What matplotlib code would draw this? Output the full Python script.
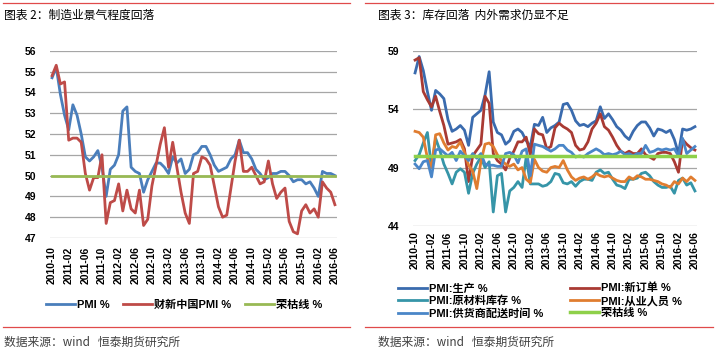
from matplotlib import pyplot as plt
from matplotlib.lines import Line2D
import numpy as np
import pandas as pd

# 月份 2010-10 ~ 2016-06
months = pd.date_range('2010-10-01', '2016-06-01', freq='MS').strftime('%Y-%m').tolist()

# 图表2 数据
pmi = [54.7, 55.2, 53.9,
       52.9, 52.2, 53.4, 52.9, 52.0, 50.9, 50.7, 50.9, 51.2, 50.4, 49.0, 50.3,
       50.5, 51.0, 53.1, 53.3, 50.4, 50.2, 50.1, 49.2, 49.8, 50.2, 50.6, 50.6,
       50.4, 50.1, 50.9, 50.6, 50.8, 50.1, 50.3, 51.0, 51.1, 51.4, 51.4, 51.0,
       50.5, 50.2, 50.3, 50.4, 50.8, 51.0, 51.7, 51.1, 51.1, 50.8, 50.3, 50.1,
       49.8, 49.9, 50.1, 50.1, 50.2, 50.2, 50.0, 49.7, 49.8, 49.8, 49.6, 49.7,
       49.4, 49.0, 50.2, 50.1, 50.1, 50.0]
caixin = [54.8, 55.3, 54.4,
          54.5, 51.7, 51.8, 51.8, 51.6, 50.1, 49.3, 49.9, 49.9, 51.0, 47.7, 48.7,
          48.8, 49.6, 48.3, 49.3, 48.4, 48.2, 49.3, 47.6, 47.9, 49.5, 50.5, 51.5,
          52.3, 50.4, 51.6, 50.4, 49.2, 48.2, 47.7, 50.1, 50.2, 50.9, 50.8, 50.5,
          49.5, 48.5, 48.0, 48.1, 49.4, 50.7, 51.7, 50.2, 50.2, 50.4, 50.0, 49.6,
          49.7, 50.7, 49.6, 48.9, 49.2, 49.4, 47.8, 47.3, 47.2, 48.3, 48.6, 48.2,
          48.4, 48.0, 49.7, 49.4, 49.2, 48.6]
boom_line = 50

# 图表3 数据
production = [57.1, 58.5, 57.3,
              55.5, 53.9, 55.6, 55.3, 54.9, 53.1, 52.1, 52.3, 52.6, 52.2, 50.9, 53.3,
              53.6, 53.9, 55.2, 57.2, 52.9, 52.0, 51.8, 51.0, 51.3, 52.1, 52.3, 52.0,
              51.3, 50.8, 52.7, 52.6, 53.3, 52.0, 52.4, 52.6, 52.9, 54.4, 54.5, 53.9,
              53.0, 52.6, 52.7, 52.5, 52.8, 53.0, 54.2, 53.2, 53.6, 53.1, 52.5, 52.2,
              51.7, 51.4, 52.1, 52.6, 52.9, 52.9, 52.4, 51.7, 52.3, 52.2, 52.0, 52.2,
              51.4, 50.2, 52.3, 52.2, 52.3, 52.5]
new_orders = [58.2, 58.4, 55.5,
              54.8, 54.2, 55.1, 53.8, 52.6, 51.0, 51.1, 51.2, 51.4, 50.6, 47.8, 50.0,
              50.5, 51.0, 55.1, 54.5, 50.2, 49.6, 49.3, 48.8, 49.8, 50.4, 51.2, 51.2,
              51.6, 50.1, 52.3, 51.9, 51.8, 50.6, 50.8, 52.4, 52.8, 52.5, 52.3, 52.0,
              50.9, 50.5, 50.6, 51.2, 52.3, 52.8, 53.6, 52.5, 52.2, 51.6, 50.9, 50.4,
              50.2, 50.4, 50.2, 50.2, 50.6, 50.1, 49.9, 49.7, 50.2, 50.3, 50.3, 50.2,
              49.5, 48.6, 51.4, 51.0, 50.7, 50.5]
inventory = [49.6, 50.1, 51.1,
             52.0, 49.0, 51.5, 50.5, 49.3, 48.5, 47.6, 48.6, 48.9, 48.6, 46.8, 48.5,
             49.3, 49.9, 49.0, 49.5, 45.2, 48.3, 48.5, 45.2, 47.0, 47.3, 47.8, 47.3,
             49.9, 47.6, 47.6, 47.6, 47.4, 47.5, 47.8, 48.5, 48.4, 47.7, 47.6, 47.8,
             47.4, 47.8, 48.0, 48.0, 47.9, 48.6, 48.8, 48.5, 48.6, 48.0, 47.5, 47.4,
             47.2, 48.0, 48.0, 48.1, 48.5, 48.6, 48.3, 47.8, 47.5, 47.3, 47.3, 47.4,
             46.8, 47.9, 48.1, 47.5, 47.7, 47.0]
employment = [52.1, 52.0, 51.6,
              49.8, 49.0, 51.8, 51.9, 51.1, 50.5, 50.8, 50.7, 51.2, 50.3, 49.2, 48.7,
              47.2, 49.5, 51.0, 51.1, 50.8, 50.1, 49.6, 49.3, 49.1, 49.3, 48.8, 49.0,
              48.0, 47.7, 49.7, 49.0, 48.7, 48.6, 49.0, 49.1, 49.0, 49.6, 48.8, 48.2,
              47.9, 48.1, 48.2, 48.0, 48.2, 48.5, 48.3, 48.2, 48.3, 48.1, 47.9, 47.8,
              47.8, 48.2, 48.0, 48.3, 48.2, 48.0, 48.0, 47.9, 47.8, 47.6, 47.5, 47.3,
              47.8, 47.6, 48.1, 47.8, 48.2, 47.9]
delivery = [49.3, 48.9, 49.5,
            49.6, 48.2, 50.5, 50.6, 50.3, 50.0, 50.3, 49.6, 50.4, 50.0, 49.6, 50.2,
            49.8, 50.2, 49.3, 49.2, 49.2, 49.1, 49.1, 50.2, 50.3, 50.1, 49.4, 50.4,
            50.6, 48.3, 51.0, 50.9, 50.8, 50.6, 50.4, 50.6, 50.9, 50.9, 50.5, 50.3,
            49.9, 50.0, 49.9, 50.2, 50.4, 50.6, 50.4, 50.1, 50.2, 50.1, 50.2, 50.4,
            50.1, 50.2, 50.0, 50.2, 50.2, 50.9, 50.3, 50.4, 50.6, 50.5, 50.6, 50.5,
            50.6, 50.0, 51.5, 50.2, 50.5, 50.8]

plt.rcParams['font.family'] = ['Noto Sans CJK SC', 'DejaVu Sans']
tickfont = ['Liberation Sans', 'Noto Sans CJK SC']

W, H = 716, 354
fig = plt.figure(figsize=(W / 100, H / 100), dpi=100)

def px(x0, y0, x1, y1):
    # 像素坐标 -> figure 坐标 [left, bottom, width, height]
    return [x0 / W, 1 - y1 / H, (x1 - x0) / W, (y1 - y0) / H]

def hline(x0, x1, y, color='#E04A4A'):
    fig.add_artist(Line2D([x0 / W, x1 / W], [1 - y / H, 1 - y / H],
                          transform=fig.transFigure, color=color, lw=0.9))

def setup(ax, ymin, ymax, step, xpad):
    x = np.arange(len(months))
    ax.set_xlim(-0.5, len(months) - 0.5)
    ax.set_ylim(ymin, ymax)
    ax.set_yticks(np.arange(ymin, ymax + 0.1, step))
    ax.set_xticks(x[::4])
    ax.set_xticklabels(months[::4], rotation=90, fontsize=7.5, fontweight='bold', family=tickfont)
    for lab in ax.get_yticklabels():
        lab.set_fontsize(7.5)
        lab.set_fontweight('bold')
        lab.set_family(tickfont)
    ax.tick_params(length=0)
    ax.tick_params(axis='x', pad=xpad)
    ax.tick_params(axis='y', pad=10)
    for s in ax.spines.values():
        s.set_visible(False)
    ax.grid(axis='y', color='#A6A6A6', lw=0.9)
    ax.set_axisbelow(True)
    return x

# ---------- 图表2 ----------
hline(3, 350, 3)
fig.text(4 / W, 1 - 15 / H, '图表 2：制造业景气程度回落', fontsize=8.5, va='center')
ax1 = fig.add_axes(px(50, 50.7, 337, 238))
x = setup(ax1, 47, 56, 1, 6)
l1, = ax1.plot(x, pmi, color='#4A7EBB', lw=2, label='PMI %')
l2, = ax1.plot(x, caixin, color='#BE4B48', lw=2, label='财新中国PMI %')
l3, = ax1.plot(x, [boom_line] * len(x), color='#98B954', lw=2, label='荣枯线 %')
fig.legend(handles=[l1, l2, l3], loc='center left', bbox_to_anchor=(36 / W, 1 - 305 / H),
           ncol=3, frameon=False, handlelength=2.6, handletextpad=0.2, columnspacing=1.2,
           prop={'family': tickfont, 'weight': 'bold', 'size': 8})
hline(3, 350, 327)
fig.text(4 / W, 1 - 342 / H, '数据来源：wind   恒泰期货研究所', fontsize=8.5, va='center', color='#404040')

# ---------- 图表3 ----------
hline(365, 713, 3)
fig.text(378 / W, 1 - 15 / H, '图表 3：库存回落  内外需求仍显不足', fontsize=8.5, va='center')
ax2 = fig.add_axes(px(413, 50.7, 697, 226))
x = setup(ax2, 44, 59, 5, 4)
r1, = ax2.plot(x, production, color='#3A6BAE', lw=2, label='PMI:生产 %')
r2, = ax2.plot(x, new_orders, color='#A93A33', lw=2, label='PMI:新订单 %')
r3, = ax2.plot(x, inventory, color='#3695A8', lw=2, label='PMI:原材料库存 %')
r4, = ax2.plot(x, employment, color='#E07D30', lw=2, label='PMI:从业人员 %')
r5, = ax2.plot(x, delivery, color='#4A86C8', lw=2, label='PMI:供货商配送时间 %')
r6, = ax2.plot(x, [boom_line] * len(x), color='#8ED04A', lw=2.5, label='荣枯线 %')
fig.legend(handles=[r1, r3, r5, r2, r4, r6], loc='center left',
           bbox_to_anchor=(388 / W, 1 - 301 / H), ncol=2, frameon=False,
           handlelength=2.6, handletextpad=0.2, columnspacing=2.4, labelspacing=0.2,
           prop={'family': tickfont, 'weight': 'bold', 'size': 8})
hline(365, 713, 327)
fig.text(378 / W, 1 - 342 / H, '数据来源：wind   恒泰期货研究所', fontsize=8.5, va='center', color='#404040')

fig.savefig('out.png', dpi=100)
